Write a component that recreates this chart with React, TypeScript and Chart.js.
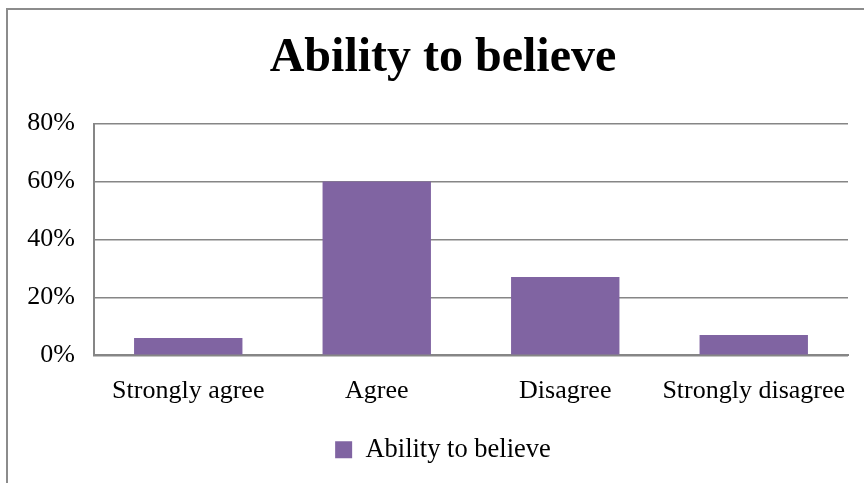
import React, { useEffect, useRef } from "react";
import { Chart, registerables } from "chart.js";

Chart.register(...registerables);

const categories = ["Strongly agree", "Agree", "Disagree", "Strongly disagree"];
const seriesName = "Ability to believe";
const values = [6, 60, 27, 7];
const yTicks = [0, 20, 40, 60, 80];
const chartTitle = "Ability to believe";

const FONT = "'Liberation Serif', 'Times New Roman', serif";

const shiftBlocks = {
  id: "shiftBlocks",
  afterLayout(chart: any) {
    const t = chart.titleBlock;
    if (t) {
      t.left += 19;
      t.right += 19;
    }
    const l = chart.legend;
    if (l) {
      l.left += 19;
      l.right += 19;
    }
  },
};

export default function App() {
  const ref = useRef<HTMLCanvasElement | null>(null);
  useEffect(() => {
    if (!ref.current) return;
    const chart = new Chart(ref.current, {
      type: "bar",
      data: {
        labels: categories,
        datasets: [
          {
            label: seriesName,
            data: values,
            backgroundColor: "#8064A2",
            borderWidth: 0,
            categoryPercentage: 1,
            barPercentage: 0.575,
          },
        ],
      },
      plugins: [shiftBlocks],
      options: {
        responsive: false,
        animation: false,
        maintainAspectRatio: false,
        layout: { padding: { left: 0, right: 16, top: 0, bottom: 10 } },
        plugins: {
          title: {
            display: true,
            text: chartTitle,
            color: "#000",
            font: { family: FONT, size: 48, weight: "bold" },
            padding: { top: 30, bottom: 36 },
          },
          legend: {
            position: "bottom",
            labels: {
              color: "#000",
              font: { family: FONT, size: 26.5 },
              boxWidth: 17,
              boxHeight: 17,
              padding: 17,
            },
          },
          tooltip: { enabled: false },
        },
        scales: {
          x: {
            grid: {
              display: true,
              drawOnChartArea: false,
              drawTicks: true,
              tickLength: 7,
              color: "rgba(0,0,0,0)",
            },
            border: { display: true, color: "#868686", width: 2 },
            ticks: {
              color: "#000",
              font: { family: FONT, size: 26 },
              padding: 13,
              maxRotation: 0,
              autoSkip: false,
            },
          },
          y: {
            min: 0,
            max: 80,
            afterFit: (scale: any) => {
              scale.width = 94;
            },
            afterBuildTicks: (scale: any) => {
              scale.ticks = yTicks.map((v) => ({ value: v }));
            },
            grid: { color: "#868686", lineWidth: 1.5, drawTicks: false },
            border: { display: true, color: "#868686", width: 2 },
            ticks: {
              color: "#000",
              font: { family: FONT, size: 26 },
              padding: 19,
              callback: (v: any) => v + "%",
            },
          },
        },
      },
    });
    return () => chart.destroy();
  }, []);
  return (
    <div
      style={{
        position: "fixed",
        left: 0,
        top: 0,
        width: 864,
        height: 483,
        overflow: "hidden",
        background: "#fff",
      }}
    >
      <div
        style={{
          position: "absolute",
          left: 6,
          top: 8,
          width: 900,
          height: 500,
          border: "2px solid #8c8c8c",
        }}
      />
      <canvas
        ref={ref}
        width={864}
        height={483}
        style={{ position: "absolute", left: 0, top: 0, width: 864, height: 483 }}
      />
    </div>
  );
}
